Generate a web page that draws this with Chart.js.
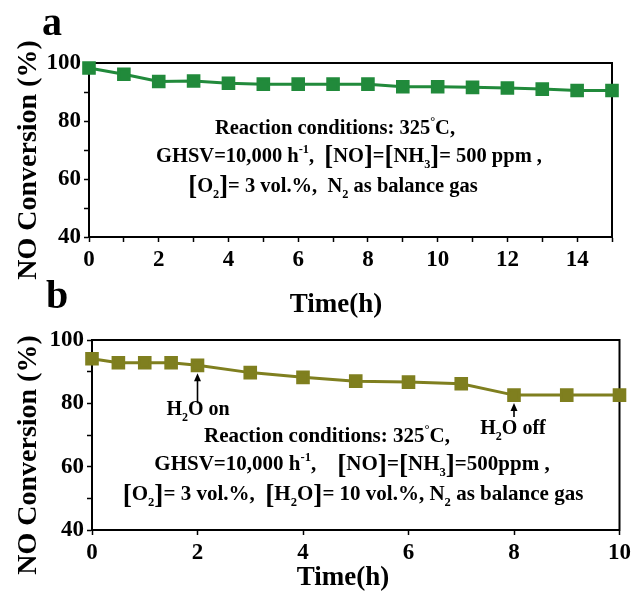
<!DOCTYPE html>
<html lang="en">
<head>
<meta charset="UTF-8">
<title>NO Conversion vs Time</title>
<script src="https://cdn.jsdelivr.net/npm/chart.js"></script>
<style>
  body { margin: 0; background: #fff; }
  #wrap { position: relative; width: 635px; height: 593px; }
  canvas { position: absolute; left: 0; }
  #chartA { top: 0; }
  #chartB { top: 270px; }
</style>
</head>
<body>
<div id="wrap">
  <canvas id="chartA" width="635" height="320"></canvas>
  <canvas id="chartB" width="635" height="323"></canvas>
</div>
<script>
  // panel a: dry feed, 0-15 h
  const timeA = [0, 1, 2, 3, 4, 5, 6, 7, 8, 9, 10, 11, 12, 13, 14, 15];
  const convA = [98.3, 96.1, 93.6, 93.8, 93.0, 92.7, 92.7, 92.7, 92.7, 91.8, 91.8, 91.6, 91.4, 91.0, 90.5, 90.5];
  // panel b: H2O switched on at 2 h, off at 8 h
  const timeB = [0, 0.5, 1, 1.5, 2, 3, 4, 5, 6, 7, 8, 9, 10];
  const convB = [94.1, 92.8, 92.8, 92.8, 92.0, 89.7, 88.2, 87.0, 86.7, 86.2, 82.6, 82.6, 82.6];
  const yLabels = [40, 60, 80, 100];
  const xLabelsA = [0, 2, 4, 6, 8, 10, 12, 14];
  const xLabelsB = [0, 2, 4, 6, 8, 10];

  const SERIF = '"Liberation Serif", "Times New Roman", serif';

  function font(size) {
    return 'bold ' + size + 'px ' + SERIF;
  }

  // parts: [text, mode] with mode '', 'sub', 'sup' or 'big'
  function scaleOf(m) {
    return m === 'sub' || m === 'sup' ? 0.6 : m === 'big' ? 1.3 : 1;
  }

  function richWidth(ctx, parts, size) {
    let w = 0;
    parts.forEach(([t, m]) => {
      ctx.font = font(size * scaleOf(m));
      w += ctx.measureText(t).width;
    });
    return w;
  }

  function drawRich(ctx, parts, cx, y, size) {
    let x = cx - richWidth(ctx, parts, size) / 2;
    ctx.textAlign = 'left';
    ctx.textBaseline = 'alphabetic';
    parts.forEach(([t, m]) => {
      const dy = m === 'sub' ? size * 0.3 : m === 'sup' ? -size * 0.45 : m === 'big' ? size * 0.12 : 0;
      ctx.font = font(size * scaleOf(m));
      ctx.fillText(t, x, y + dy);
      x += ctx.measureText(t).width;
    });
  }

  function decor(cfg) {
    return {
      id: 'decor',
      beforeDatasetsDraw(chart) {
        const { ctx, chartArea: a } = chart;
        ctx.save();
        ctx.strokeStyle = '#000';
        ctx.lineWidth = 2;
        ctx.strokeRect(a.left, a.top, a.right - a.left, a.bottom - a.top);
        ctx.restore();
      },
      afterDraw(chart) {
        const ctx = chart.ctx;
        ctx.save();
        ctx.fillStyle = '#000';
        ctx.strokeStyle = '#000';

        // y title
        ctx.save();
        ctx.translate(cfg.yTitle[0], cfg.yTitle[1]);
        ctx.rotate(-Math.PI / 2);
        ctx.font = font(28);
        ctx.textAlign = 'center';
        ctx.textBaseline = 'middle';
        ctx.fillText('NO Conversion (%)', 0, 0);
        ctx.restore();

        // x title
        ctx.font = font(27);
        ctx.textAlign = 'center';
        ctx.textBaseline = 'middle';
        ctx.fillText('Time(h)', cfg.xTitle[0], cfg.xTitle[1]);

        // panel letter
        ctx.font = font(40);
        ctx.textAlign = 'left';
        ctx.textBaseline = 'alphabetic';
        ctx.fillText(cfg.letter, cfg.letterPos[0], cfg.letterPos[1]);

        cfg.notes.forEach(n => drawRich(ctx, n.parts, n.cx, n.y, n.size || cfg.noteSize));

        // arrows pointing at a data point
        const xs = chart.scales.x, ys = chart.scales.y;
        (cfg.arrows || []).forEach(ar => {
          const px = xs.getPixelForValue(ar.x);
          const tip = ys.getPixelForValue(ar.y) + 8;
          ctx.lineWidth = 1.6;
          ctx.beginPath();
          ctx.moveTo(px, tip + ar.len);
          ctx.lineTo(px, tip + 6);
          ctx.stroke();
          ctx.beginPath();
          ctx.moveTo(px, tip);
          ctx.lineTo(px - 3.5, tip + 8);
          ctx.lineTo(px + 3.5, tip + 8);
          ctx.closePath();
          ctx.fill();
        });
        ctx.restore();
      }
    };
  }

  function makeChart(id, cfg) {
    const tickFont = { family: SERIF, size: 23, weight: 'bold' };
    const grid = { drawOnChartArea: false, tickLength: 5, tickColor: '#000', tickWidth: 1.5 };
    const border = { display: true, color: '#000', width: 2 };
    return new Chart(document.getElementById(id), {
      type: 'line',
      data: {
        datasets: [{
          data: cfg.xs.map((x, i) => ({ x: x, y: cfg.ys[i] })),
          borderColor: cfg.color,
          backgroundColor: cfg.color,
          borderWidth: 3,
          pointStyle: 'rect',
          pointRadius: 7.5,
          pointHoverRadius: 7.5,
          tension: 0,
          clip: false
        }]
      },
      options: {
        responsive: false,
        animation: false,
        events: [],
        layout: { padding: cfg.pad },
        plugins: { legend: { display: false }, tooltip: { enabled: false } },
        scales: {
          x: {
            type: 'linear', min: 0, max: cfg.xMax,
            afterFit: s => { s.height = cfg.xH; },
            ticks: {
              stepSize: cfg.xStep, autoSkip: false, maxRotation: 0, color: '#000',
              font: tickFont, padding: 4,
              callback: v => cfg.xLabels.includes(v) ? v : ''
            },
            grid: grid, border: border
          },
          y: {
            min: 40, max: 100,
            afterFit: s => { s.width = cfg.yW; },
            ticks: {
              stepSize: 10, autoSkip: false, color: '#000', font: tickFont, padding: 3,
              callback: v => yLabels.includes(v) ? v : ''
            },
            grid: grid, border: border
          }
        }
      },
      plugins: [decor(cfg)]
    });
  }

  makeChart('chartA', {
    xs: timeA, ys: convA, color: '#218a3b',
    xMax: 15, xStep: 1, xLabels: xLabelsA,
    pad: { left: 0, right: 23, top: 63, bottom: 0 }, xH: 83, yW: 89,
    yTitle: [29, 160], xTitle: [336, 305], letter: 'a', letterPos: [42, 35],
    noteSize: 20.5,
    notes: [
      { cx: 335, y: 134, parts: [['Reaction conditions: 325', ''], ['°', 'sup'], ['C,', '']] },
      { cx: 349, y: 162, parts: [['GHSV=10,000 h', ''], ['-1', 'sup'], [',  ', ''], ['[', 'big'], ['NO', ''], [']', 'big'],
        ['=', ''], ['[', 'big'], ['NH', ''], ['3', 'sub'], [']', 'big'], ['= 500 ppm ,', '']] },
      { cx: 333, y: 192, parts: [['[', 'big'], ['O', ''], ['2', 'sub'], [']', 'big'], ['= 3 vol.%,  N', ''], ['2', 'sub'], [' as balance gas', '']] }
    ]
  });

  makeChart('chartB', {
    xs: timeB, ys: convB, color: '#7f7f1f',
    xMax: 10, xStep: 2, xLabels: xLabelsB,
    pad: { left: 0, right: 14, top: 70, bottom: 0 }, xH: 63, yW: 92,
    yTitle: [29, 185], xTitle: [343, 308], letter: 'b', letterPos: [46, 38],
    noteSize: 21,
    arrows: [{ x: 2, y: 92.0, len: 30 }, { x: 8, y: 82.6, len: 14 }],
    notes: [
      { cx: 198, y: 145, size: 20, parts: [['H', ''], ['2', 'sub'], ['O on', '']] },
      { cx: 513, y: 164, size: 20, parts: [['H', ''], ['2', 'sub'], ['O off', '']] },
      { cx: 327, y: 172, parts: [['Reaction conditions: 325', ''], ['°', 'sup'], ['C,', '']] },
      { cx: 352, y: 200, parts: [['GHSV=10,000 h', ''], ['-1', 'sup'], [',    ', ''], ['[', 'big'], ['NO', ''], [']', 'big'],
        ['=', ''], ['[', 'big'], ['NH', ''], ['3', 'sub'], [']', 'big'], ['=500ppm ,', '']] },
      { cx: 353, y: 230, parts: [['[', 'big'], ['O', ''], ['2', 'sub'], [']', 'big'], ['= 3 vol.%,  ', ''], ['[', 'big'], ['H', ''], ['2', 'sub'],
        ['O', ''], [']', 'big'], ['= 10 vol.%, N', ''], ['2', 'sub'], [' as balance gas', '']] }
    ]
  });
</script>
</body>
</html>
